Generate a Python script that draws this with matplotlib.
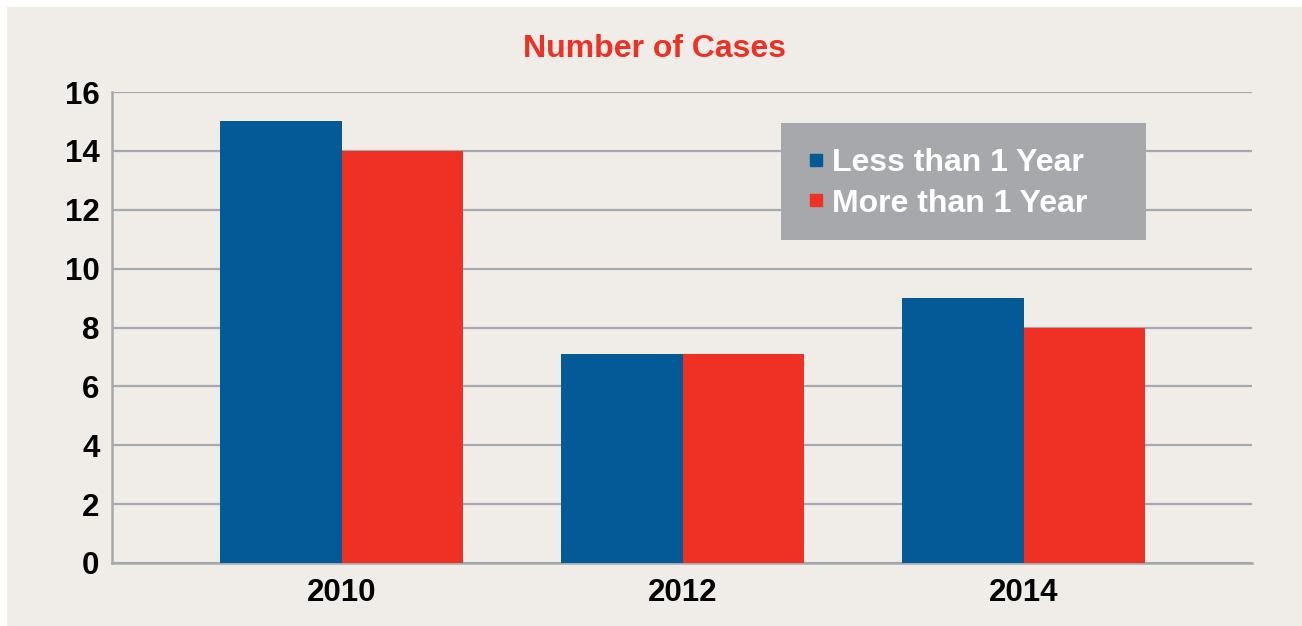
"""
Bar chart of the number of cases per year
"""

import matplotlib.pyplot as plt
import numpy as np
from matplotlib.lines import Line2D
from matplotlib.patches import Rectangle

years = ["2010", "2012", "2014"]
less_than_1_year = [15, 7.1, 9]
more_than_1_year = [14, 7.1, 8]
y_ticks = [0, 2, 4, 6, 8, 10, 12, 14, 16]

blue = "#035a96"
red = "#ee3124"
grey = "#a7a8ab"
beige = "#f0ede8"

plt.rcParams['font.family'] = ['Liberation Sans', 'DejaVu Sans']
plt.rcParams['font.weight'] = 'bold'

W, H = 1302, 626
fig = plt.figure(figsize=(W / 100, H / 100), dpi=100, facecolor="white")
# beige panel, leaving a thin white strip on top and left
fig.patches.append(Rectangle((7 / W, 0), 1, 1 - 7 / H, transform=fig.transFigure,
                             facecolor=beige, edgecolor="none", zorder=-10))
ax = fig.add_axes([112 / W, 1 - 563 / H, (1252 - 112) / W, (563 - 92) / H])
ax.set_facecolor(beige)

x = np.arange(len(years))
width = 0.357
ax.bar(x - width / 2, less_than_1_year, width, color=blue, zorder=3)
ax.bar(x + width / 2, more_than_1_year, width, color=red, zorder=3)

ax.set_xlim(-0.674, 2.67)
ax.set_ylim(0, 16)
ax.set_yticks(y_ticks)
ax.set_xticks(x)
ax.set_xticklabels(years)
ax.tick_params(axis='both', length=0, labelsize=22.5, colors="black")
ax.tick_params(axis='y', pad=9)
ax.tick_params(axis='x', pad=11)
ax.yaxis.grid(True, color=grey, linewidth=1.6, zorder=1)
ax.set_axisbelow(True)
for side in ["top", "right"]:
    ax.spines[side].set_visible(False)
for side in ["left", "bottom"]:
    ax.spines[side].set_color(grey)
    ax.spines[side].set_linewidth(1.8)
    ax.spines[side].set_zorder(2)

fig.text(655 / W, 1 - 49 / H, "Number of Cases", color=red, fontsize=23,
         fontweight='bold', ha='center', va='center')

# legend: grey box drawn on its own, legend entries on top without frame
fig.patches.append(Rectangle((781 / W, 1 - 240 / H), (1146 - 781) / W, (240 - 123) / H,
                             transform=fig.transFigure, facecolor=grey,
                             edgecolor="none", zorder=5))
handles = [Line2D([], [], marker='s', linestyle='none', markersize=9, color=blue),
           Line2D([], [], marker='s', linestyle='none', markersize=9, color=red)]
leg = fig.legend(handles, ["Less than 1 Year", "More than 1 Year"],
                 loc='upper left', bbox_to_anchor=(806 / W, 1 - 148 / H),
                 borderaxespad=0, borderpad=0,
                 frameon=False, fontsize=23, labelcolor="white",
                 handlelength=0.6, handletextpad=0.2, labelspacing=0.33)
leg.set_zorder(6)
for txt in leg.get_texts():
    txt.set_fontweight('bold')

plt.savefig("out.png", dpi=100, facecolor=fig.get_facecolor())
